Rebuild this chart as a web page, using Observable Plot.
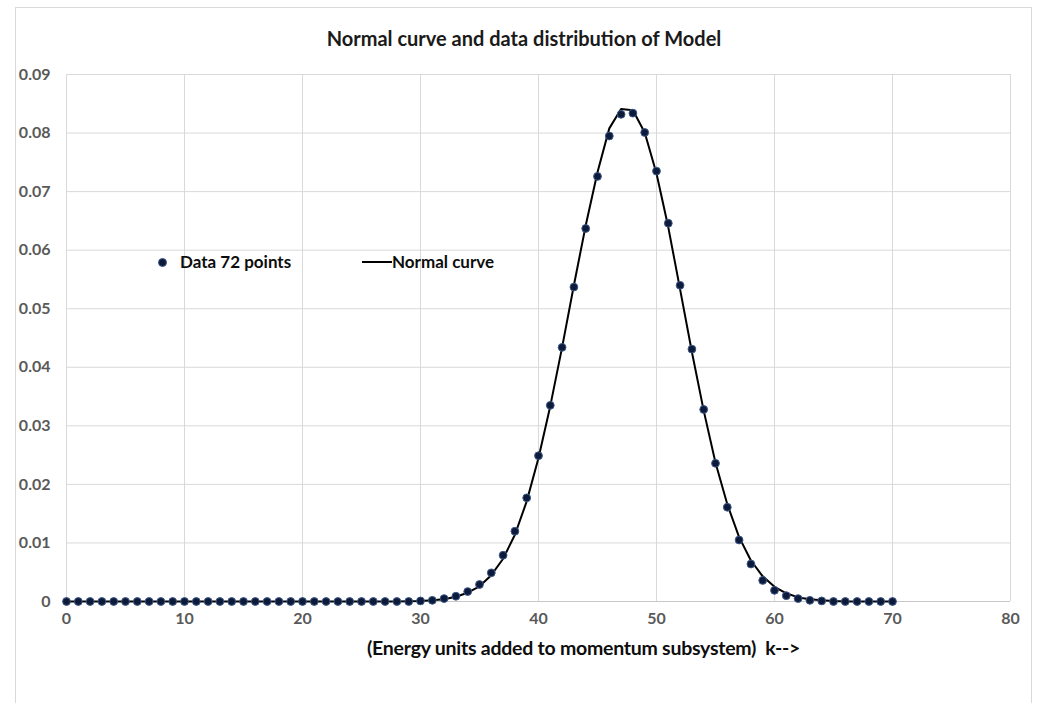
<!DOCTYPE html>
<html><head><meta charset="utf-8">
<script src="https://cdn.jsdelivr.net/npm/d3@7"></script>
<script src="https://cdn.jsdelivr.net/npm/@observablehq/plot@0.6"></script>
<style>
body{margin:0;background:#fff;font-family:Lato,"Open Sans",sans-serif;}
#wrap{position:relative;width:1037px;height:703px;overflow:hidden;background:#fff;}
#frame{position:absolute;left:15px;top:7px;width:1017px;height:720px;border:1px solid #d9d9d9;box-sizing:border-box;}
#title{position:absolute;top:26px;left:15px;width:1018px;text-align:center;font-size:20px;line-height:24px;font-weight:bold;color:#1a1a1a;}
#xtitle{position:absolute;top:636px;left:367px;font-size:19.5px;line-height:24px;font-weight:bold;color:#0d0d0d;white-space:pre;letter-spacing:-0.25px;}
#chart{position:absolute;left:0;top:0;}
.leg{position:absolute;font-size:17px;line-height:22px;font-weight:bold;color:#0d0d0d;white-space:nowrap;}
#legdot{position:absolute;left:158px;top:258px;width:7px;height:7px;border-radius:50%;background:#0e1a3a;border:1px solid #3d5a8a;}
#legline{position:absolute;left:362px;top:261px;width:30px;height:2px;background:#000;}
</style>
</head><body>
<div id="wrap">
  <div id="frame"></div>
  <div id="chart"></div>
  <div id="title">Normal curve and data distribution of Model</div>
  <div id="xtitle">(Energy units added to momentum subsystem)  k--&gt;</div>
  <div id="legdot"></div>
  <div class="leg" style="left:180px;top:251px;">Data 72 points</div>
  <div id="legline"></div>
  <div class="leg" style="left:392px;top:251px;">Normal curve</div>
</div>
<script>
const kValues = [0,1,2,3,4,5,6,7,8,9,10,11,12,13,14,15,16,17,18,19,20,21,22,23,24,25,26,27,28,29,30,31,32,33,34,35,36,37,38,39,40,41,42,43,44,45,46,47,48,49,50,51,52,53,54,55,56,57,58,59,60,61,62,63,64,65,66,67,68,69,70];
const dataValues = [0,0,0,0,0,0,0,0,0,0, 0,0,0,0,0,0,0,0,0,0, 0,0,0,0,0,0,0,0,0,0,
  0.0001,0.0002,0.0005,0.0009,0.0017,0.0029,0.0049,0.0079,0.0120,0.0177,
  0.0249,0.0335,0.0434,0.0537,0.0637,0.0726,0.0795,0.0832,0.0834,0.0801,
  0.0735,0.0646,0.0540,0.0431,0.0328,0.0236,0.0161,0.0105,0.0064,0.0036,
  0.0019,0.0010,0.0005,0.0002,0.0001,0,0,0,0,0,0];
const normalValues = [0,0,0,0,0,0,0,0,0,0, 0,0,0,0,0,0,0,0,0,0, 0,0,0,0,0,0,0,0,0,0.00005,
  0.0001,0.0002,0.0004,0.0008,0.0015,0.0026,0.0045,0.0073,0.0114,0.0171,
  0.0245,0.0334,0.0434,0.0540,0.0642,0.0733,0.0808,0.0841,0.0839,0.0801,
  0.0731,0.0639,0.0533,0.0426,0.0326,0.0237,0.0166,0.0110,0.0070,0.0043,
  0.0025,0.0014,0.0007,0.0004,0.0002,0.0001,0,0,0,0,0];
const xTicks = [0,10,20,30,40,50,60,70,80];
const yTicks = [0,0.01,0.02,0.03,0.04,0.05,0.06,0.07,0.08,0.09];

const dataPts = kValues.map((k,i)=>({k, v:dataValues[i]}));
const normPts = kValues.map((k,i)=>({k, v:normalValues[i]}));

const chart = Plot.plot({
  width: 1037,
  height: 640,
  marginLeft: 66,
  marginRight: 27,
  marginTop: 74,
  marginBottom: 39,
  style: {fontFamily:"Lato, 'Open Sans', sans-serif", fontSize:"16px", fontWeight:"bold", color:"#595959", background:"transparent", overflow:"visible"},
  x: {domain:[0,80]},
  y: {domain:[0,0.09]},
  marks: [
    Plot.ruleY(yTicks, {stroke:"#d9d9d9", strokeWidth:1}),
    Plot.ruleX(xTicks, {stroke:"#d9d9d9", strokeWidth:1}),
    Plot.ruleY([0], {stroke:"#c8c8c8", strokeWidth:1.2}),
    Plot.axisX(xTicks, {tickSize:0, tickPadding:11, label:null, tickFormat:d=>String(d)}),
    Plot.axisY(yTicks, {tickSize:0, tickPadding:16, label:null, tickFormat:d=> d===0 ? "0" : d.toFixed(2)}),
    Plot.line(normPts, {x:"k", y:"v", stroke:"#000", strokeWidth:2}),
    Plot.dot(dataPts, {x:"k", y:"v", r:3.9, fill:"#0e1a3a", stroke:"#3d5a8a", strokeWidth:1})
  ]
});
document.getElementById("chart").appendChild(chart);
</script>
</body></html>
